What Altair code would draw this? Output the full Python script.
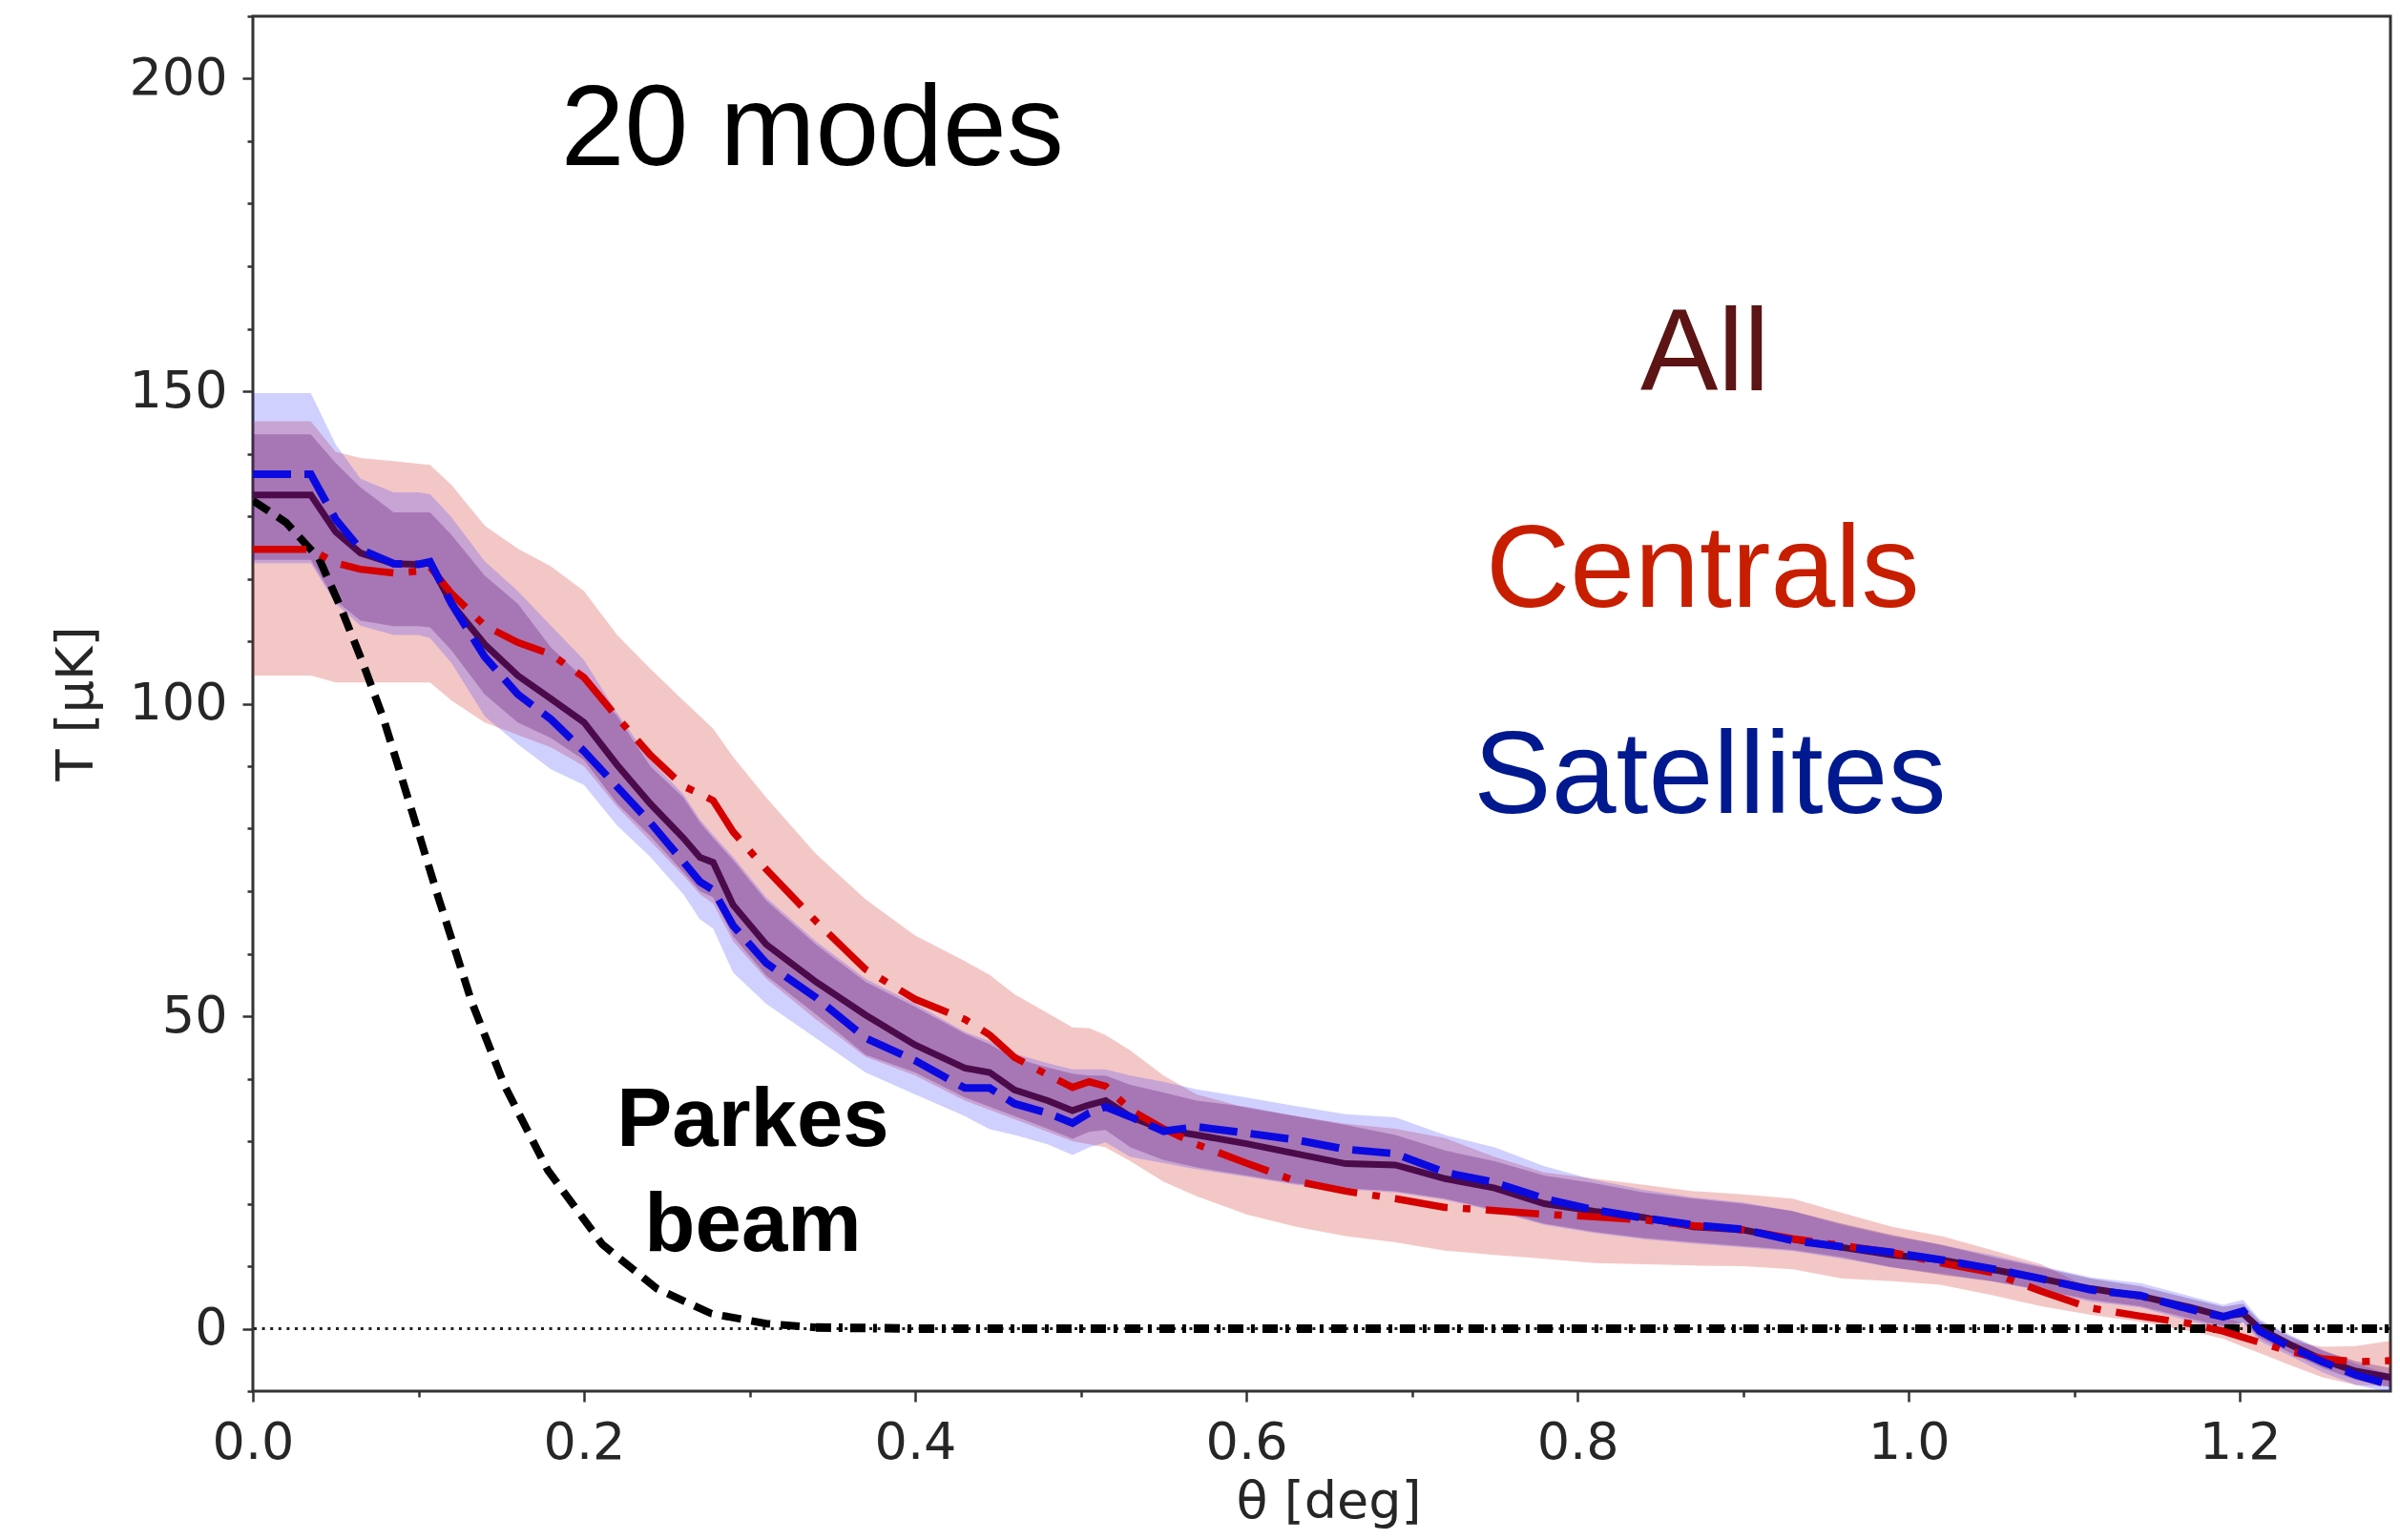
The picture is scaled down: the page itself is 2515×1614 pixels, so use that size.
import altair as alt
import pandas as pd

# ---------------- data ----------------
theta = [0.000, 0.035, 0.050, 0.065, 0.085, 0.100, 0.107, 0.120, 0.140, 0.160,
         0.180, 0.200, 0.220, 0.240, 0.260, 0.270, 0.278, 0.290, 0.310, 0.340,
         0.370, 0.400, 0.430, 0.445, 0.460, 0.480, 0.495, 0.505, 0.515, 0.530,
         0.550, 0.570, 0.600, 0.630, 0.660, 0.690, 0.720, 0.750, 0.780, 0.810,
         0.840, 0.870, 0.900, 0.930, 0.960, 0.990, 1.020, 1.050, 1.080, 1.110,
         1.140, 1.170, 1.190, 1.202, 1.212, 1.230, 1.250, 1.270, 1.295]

all_mean = [133.4, 133.4, 127.5, 124.1, 122.4, 122.3, 122.5, 116.0, 109.5, 104.5,
            100.8, 97.0, 90.2, 84.0, 78.5, 75.4, 74.6, 67.8, 61.5, 55.5,
            50.2, 45.4, 41.7, 41.0, 38.2, 36.5, 34.9, 35.8, 36.5, 33.9,
            31.8, 31.0, 29.6, 28.0, 26.4, 26.2, 24.0, 22.5, 20.0, 18.8,
            17.8, 16.3, 15.8, 14.3, 13.0, 11.8, 11.0, 9.5, 8.0, 6.4,
            5.2, 3.4, 2.0, 2.4, 0.0, -2.5, -5.0, -6.8, -8.0]
all_hi = [143.1, 143.1, 138.5, 134.6, 130.6, 130.6, 130.6, 127.0, 120.5, 116.0,
          109.0, 104.0, 98.0, 90.0, 85.0, 81.0, 78.5, 75.0, 68.5, 61.5,
          55.5, 51.5, 47.2, 45.5, 43.3, 41.8, 40.8, 40.5, 40.5, 39.0,
          37.8, 36.5, 35.5, 34.0, 32.6, 31.0, 28.5, 26.8, 24.5, 23.3,
          21.8, 20.8, 20.0, 18.8, 16.8, 15.0, 13.4, 11.5, 9.8, 8.0,
          6.8, 4.8, 3.5, 4.0, 1.2, -1.2, -3.5, -5.2, -6.5]
all_lo = [123.0, 123.0, 116.5, 113.3, 112.4, 112.4, 112.2, 108.5, 101.5, 97.0,
          94.5, 91.0, 84.0, 78.8, 73.0, 70.0, 69.0, 62.8, 56.5, 50.3,
          43.8, 41.0, 37.0, 35.5, 34.0, 32.0, 30.4, 31.5, 31.8, 29.0,
          27.0, 25.8, 24.5, 23.2, 22.5, 22.0, 20.8, 19.0, 16.8, 15.5,
          14.5, 13.8, 13.2, 12.6, 11.4, 9.8, 8.6, 7.6, 6.2, 4.6,
          3.6, 1.6, 0.4, 1.0, -1.5, -3.8, -6.3, -8.2, -9.6]

sat_mean = [136.7, 136.7, 129.5, 124.7, 122.4, 122.3, 122.7, 116.0, 107.5, 101.5,
            97.5, 92.4, 86.7, 81.0, 74.7, 71.5, 70.2, 64.5, 58.5, 53.0,
            46.5, 42.9, 38.5, 38.5, 36.0, 34.5, 32.9, 34.5, 35.5, 33.9,
            31.6, 32.3, 31.3, 30.2, 28.7, 28.0, 25.0, 23.4, 20.8, 19.0,
            17.7, 16.6, 15.9, 14.1, 13.1, 12.2, 11.0, 9.6, 8.0, 6.2,
            5.3, 3.1, 1.9, 2.8, -0.4, -2.9, -5.3, -7.4, -9.3]
sat_hi = [149.7, 149.7, 141.5, 136.0, 133.8, 133.8, 133.5, 129.8, 122.8, 118.0,
          112.5, 107.0, 98.5, 91.0, 85.5, 81.5, 79.0, 75.5, 69.0, 62.0,
          56.0, 52.0, 47.5, 46.0, 44.0, 42.5, 41.5, 41.5, 41.5, 40.5,
          39.5, 38.3, 37.0, 35.6, 34.3, 33.8, 31.0, 29.0, 26.0, 23.8,
          22.2, 21.0, 20.2, 18.8, 16.6, 14.8, 13.4, 11.8, 10.0, 8.2,
          7.3, 5.2, 3.8, 4.6, 1.5, -1.0, -3.4, -5.6, -7.6]
sat_lo = [122.5, 122.5, 116.0, 112.5, 111.0, 111.0, 110.5, 106.5, 98.0, 93.5,
          89.5, 87.0, 80.5, 75.5, 69.5, 65.5, 64.0, 57.0, 52.0, 46.5,
          41.0, 37.5, 34.0, 31.9, 31.0, 29.5, 27.8, 29.0, 29.8, 27.5,
          26.5, 25.5, 24.3, 23.0, 22.3, 21.8, 20.6, 18.8, 16.6, 15.3,
          14.3, 13.6, 13.0, 12.4, 11.2, 9.8, 8.8, 7.6, 6.1, 4.3,
          3.4, 1.2, 0.0, 1.0, -2.0, -4.3, -7.0, -9.0, -10.5]

cen_mean = [124.7, 124.7, 122.5, 121.5, 120.9, 121.2, 121.9, 117.6, 112.5, 109.8,
            107.9, 104.2, 97.8, 91.8, 86.8, 85.6, 84.5, 79.5, 73.5, 65.2,
            57.5, 52.7, 49.5, 47.0, 43.4, 40.6, 38.6, 39.5, 38.8, 35.0,
            32.0, 29.5, 26.5, 23.6, 22.0, 20.8, 19.4, 18.9, 18.3, 17.9,
            17.4, 16.5, 15.8, 14.4, 13.3, 12.2, 10.5, 9.0, 6.0, 3.3,
            2.0, 0.8, -0.4, -1.4, -2.2, -3.6, -4.8, -5.3, -5.1]
cen_hi = [145.2, 145.2, 140.3, 139.3, 138.8, 138.4, 138.2, 135.0, 128.5, 124.8,
          122.0, 118.0, 111.0, 105.6, 100.5, 98.0, 96.0, 91.5, 85.0, 76.0,
          68.7, 62.9, 58.8, 56.6, 53.5, 50.5, 48.2, 48.1, 47.0, 44.5,
          40.5, 37.5, 35.3, 34.0, 32.8, 32.0, 30.5, 27.5, 25.0, 24.0,
          23.0, 22.0, 21.5, 20.8, 18.5, 16.3, 14.8, 12.6, 10.3, 6.4,
          5.0, 3.6, 2.0, 0.8, -0.3, -2.0, -2.9, -2.8, -1.8]
cen_lo = [104.5, 104.5, 103.4, 103.4, 103.4, 103.4, 103.4, 100.5, 97.0, 95.0,
          93.0, 90.0, 83.5, 78.0, 72.5, 69.5, 68.0, 62.0, 56.0, 49.5,
          43.5, 40.5, 36.5, 35.0, 33.5, 31.5, 30.0, 29.5, 29.0, 26.8,
          23.5, 21.2, 18.3, 16.3, 14.8, 13.8, 12.5, 11.8, 11.2, 10.5,
          10.3, 10.1, 10.0, 9.5, 8.0, 7.6, 7.0, 5.4, 3.6, 2.2,
          1.1, -0.4, -1.6, -2.9, -3.9, -5.8, -7.8, -9.0, -9.3]

beam_theta = [0.000, 0.020, 0.040, 0.053, 0.066, 0.079, 0.089, 0.112, 0.132, 0.152,
              0.178, 0.211, 0.244, 0.277, 0.310, 0.340, 0.400, 0.700, 1.000, 1.295]
beam_T = [132.5, 129.0, 123.2, 115.4, 106.8, 97.5, 88.9, 69.0, 52.4, 38.9,
          25.4, 13.5, 6.4, 2.4, 0.8, 0.2, 0.0, 0.0, 0.0, 0.0]

zero_level = [0]

x_ticks = [0.0, 0.2, 0.4, 0.6, 0.8, 1.0, 1.2]
x_minor_ticks = [0.1, 0.3, 0.5, 0.7, 0.9, 1.1]
y_ticks = [0, 50, 100, 150, 200]
y_minor_ticks = [-10, 10, 20, 30, 40, 60, 70, 80, 90, 110, 120, 130, 140, 160, 170, 180, 190, 210]

series_labels = ["All", "Centrals", "Satellites"]
series_label_theta = [0.877, 0.8756, 0.880]
series_label_T = [150.2, 115.5, 82.5]
series_label_colors = ["#5c1414", "#c81e00", "#00198f"]

title_text = ["20 modes"]
title_theta = [0.186]
title_T = [186.2]

beam_text = ["Parkes", "beam"]
beam_text_theta = [0.302, 0.302]
beam_text_T = [29.2, 12.5]

# ---------------- tables ----------------
df = pd.DataFrame(dict(theta=theta, all_mean=all_mean, all_hi=all_hi, all_lo=all_lo,
                       sat_mean=sat_mean, sat_hi=sat_hi, sat_lo=sat_lo,
                       cen_mean=cen_mean, cen_hi=cen_hi, cen_lo=cen_lo))
beam_df = pd.DataFrame(dict(theta=beam_theta, T=beam_T))
zero_df = pd.DataFrame(dict(T=zero_level))
lab_df = pd.DataFrame(dict(theta=series_label_theta, T=series_label_T,
                           txt=series_labels, col=series_label_colors))
title_df = pd.DataFrame(dict(theta=title_theta, T=title_T, txt=title_text))
btxt_df = pd.DataFrame(dict(theta=beam_text_theta, T=beam_text_T, txt=beam_text))

xs = alt.Scale(domain=[0, 1.291], nice=False, zero=False)
ys = alt.Scale(domain=[-10, 210], nice=False, zero=False)

x_major = alt.Axis(values=x_ticks, format=".1f", tickSize=11, labelPadding=16,
                   orient="bottom", labelFlush=False,
                   title="θ [deg]", titleX=1127, titleY=116, titleAlign="center",
                   titleBaseline="middle", grid=False, domain=False)
y_major = alt.Axis(values=y_ticks, tickSize=11, labelPadding=16,
                   orient="left", labelFlush=False,
                   title="T [μK]", titleX=-185, titleY=720, titleAlign="center",
                   titleBaseline="middle", grid=False, domain=False)
x_minor = alt.Axis(values=x_minor_ticks, tickSize=6, labels=False, title=None,
                   orient="bottom", grid=False, domain=False)
y_minor = alt.Axis(values=y_minor_ticks, tickSize=6, labels=False, title=None,
                   orient="left", grid=False, domain=False)


def X(axis=None):
    return alt.X("theta:Q", scale=xs, axis=axis)


cen_band = alt.Chart(df).mark_area(color="#d62728", opacity=0.26, clip=True).encode(
    x=X(x_major), y=alt.Y("cen_lo:Q", scale=ys, axis=y_major), y2="cen_hi:Q")
sat_band = alt.Chart(df).mark_area(color="#2a2aff", opacity=0.22, clip=True).encode(
    x=X(x_minor), y=alt.Y("sat_lo:Q", scale=ys, axis=y_minor), y2="sat_hi:Q")
all_band = alt.Chart(df).mark_area(color="#500064", opacity=0.27, clip=True).encode(
    x=X(), y=alt.Y("all_lo:Q", scale=ys, axis=None), y2="all_hi:Q")

zero_rule = alt.Chart(zero_df).mark_rule(color="#222222", strokeWidth=3,
                                         strokeDash=[3, 5.6]).encode(
    y=alt.Y("T:Q", scale=ys, axis=None))

beam_curve = alt.Chart(beam_df).transform_filter(alt.datum.theta <= 0.34).mark_line(
    color="black", strokeWidth=8, strokeDash=[20, 11], clip=True).encode(
    x=X(), y=alt.Y("T:Q", scale=ys, axis=None))
beam_flat = alt.Chart(beam_df).transform_filter(alt.datum.theta >= 0.34).mark_line(
    color="black", strokeWidth=9, strokeDash=[16, 8, 4, 8], clip=True).encode(
    x=X(), y=alt.Y("T:Q", scale=ys, axis=None))

all_line = alt.Chart(df).mark_line(color="#4b0b4b", strokeWidth=7, clip=True).encode(
    x=X(), y=alt.Y("all_mean:Q", scale=ys, axis=None))
cen_line = alt.Chart(df).mark_line(color="#d40000", strokeWidth=7.5,
                                   strokeDash=[56, 16, 8, 16], clip=True).encode(
    x=X(), y=alt.Y("cen_mean:Q", scale=ys, axis=None))
sat_line = alt.Chart(df).mark_line(color="#0a0ae0", strokeWidth=8,
                                   strokeDash=[40, 14], clip=True).encode(
    x=X(), y=alt.Y("sat_mean:Q", scale=ys, axis=None))

series_text = alt.Chart(lab_df).mark_text(font="Liberation Sans", fontSize=122,
                                          align="center", baseline="alphabetic").encode(
    x=X(), y=alt.Y("T:Q", scale=ys, axis=None), text="txt:N",
    color=alt.Color("col:N", scale=None))
title_mark = alt.Chart(title_df).mark_text(font="Liberation Sans", fontSize=120,
                                           align="left", baseline="alphabetic",
                                           color="black").encode(
    x=X(), y=alt.Y("T:Q", scale=ys, axis=None), text="txt:N")
beam_label = alt.Chart(btxt_df).mark_text(font="Liberation Sans", fontSize=87,
                                          fontWeight="bold", align="center",
                                          baseline="alphabetic", color="black").encode(
    x=X(), y=alt.Y("T:Q", scale=ys, axis=None), text="txt:N")

chart = alt.layer(
    cen_band, sat_band, all_band, zero_rule, beam_curve, beam_flat,
    all_line, cen_line, sat_line, series_text, title_mark, beam_label
).resolve_axis(x="independent", y="independent").properties(
    width=2240, height=1441,
    autosize=alt.AutoSizeParams(type="none"),
    padding={"left": 257, "top": 9, "right": 2, "bottom": 147},
).configure_view(stroke="#333333", strokeWidth=3).configure_axis(
    labelFont="DejaVu Sans", labelFontSize=54, labelColor="#262626",
    titleFont="DejaVu Sans", titleFontSize=54, titleFontWeight="normal",
    titleColor="#262626", tickColor="#333333", tickWidth=2.5,
)

chart.save("out.html", embed_options={"renderer": "svg", "actions": False})
